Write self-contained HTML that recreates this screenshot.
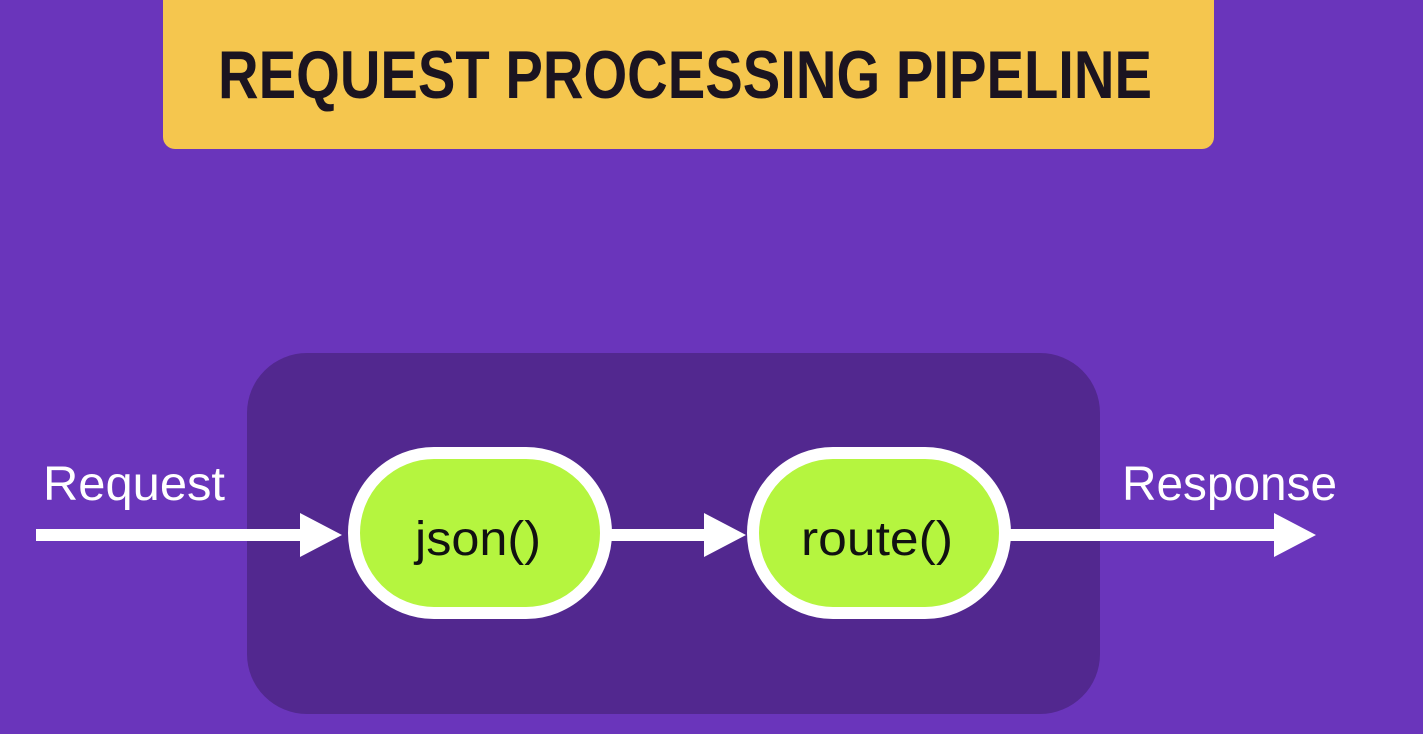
<!DOCTYPE html>
<html><head><style>
html,body{margin:0;padding:0;width:1423px;height:734px;overflow:hidden;background:#6a35bb;}
svg{display:block}
</style></head><body>
<svg width="1423" height="734" viewBox="0 0 1423 734" xmlns="http://www.w3.org/2000/svg">
<rect x="0" y="0" width="1423" height="734" fill="#6a35bb"/>
<rect x="163" y="-20" width="1051" height="169" rx="12" fill="#f5c64e"/>
<text x="685" y="98" text-anchor="middle" font-family="Liberation Sans, sans-serif" font-weight="bold" font-size="68" fill="#1b1420" textLength="934" lengthAdjust="spacingAndGlyphs">REQUEST PROCESSING PIPELINE</text>
<rect x="247" y="353" width="853" height="361" rx="60" fill="#52288f"/>
<g fill="#ffffff">
<rect x="36" y="529" width="268" height="12"/>
<polygon points="300,513 342,535 300,557"/>
<rect x="610" y="529" width="98" height="12"/>
<polygon points="704,513 746,535 704,557"/>
<rect x="1008" y="529" width="270" height="12"/>
<polygon points="1274,513 1316,535 1274,557"/>
</g>
<rect x="354" y="453" width="252" height="160" rx="80" fill="#b5f53f" stroke="#ffffff" stroke-width="12"/>
<rect x="753" y="453" width="252" height="160" rx="80" fill="#b5f53f" stroke="#ffffff" stroke-width="12"/>
<g font-family="Liberation Sans, sans-serif" font-size="48">
<text x="478" y="555" text-anchor="middle" fill="#111" textLength="126" lengthAdjust="spacingAndGlyphs">json()</text>
<text x="877" y="555" text-anchor="middle" fill="#111" textLength="152" lengthAdjust="spacingAndGlyphs">route()</text>
<text x="43" y="500" fill="#ffffff" textLength="182" lengthAdjust="spacingAndGlyphs">Request</text>
<text x="1122" y="500" fill="#ffffff" textLength="215" lengthAdjust="spacingAndGlyphs">Response</text>
</g>
</svg>
</body></html>
